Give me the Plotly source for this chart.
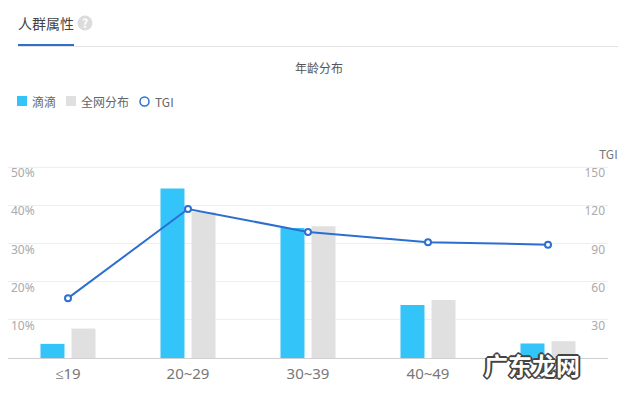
import plotly.graph_objects as go

categories = ["≤19", "20~29", "30~39", "40~49", "≥50"]
didi = [3.7, 44.4, 34.0, 13.9, 3.8]
whole_net = [7.7, 38.2, 34.5, 15.2, 4.4]
tgi = [47, 117, 99, 91, 89]
pct_ticks = [10, 20, 30, 40, 50]
tgi_ticks = [30, 60, 90, 120, 150]

CJK = "Noto Sans CJK SC"
W, H = 618, 394
BLUE = "#2d6fcf"
TOP_PAD = 10 / 191  # headroom above the 50% gridline, so its label stays visible

def px(x): return (x - 8) / 600
def py(y): return (358 - y) / 201

fig = go.Figure()
fig.add_trace(go.Bar(x=categories, y=didi, name="滴滴", marker_color="#33c5f9", marker_line_width=0))
fig.add_trace(go.Bar(x=categories, y=whole_net, name="全网分布", marker_color="#e0e0e0", marker_line_width=0))
fig.add_trace(go.Scatter(x=categories, y=tgi, name="TGI", yaxis="y2", mode="lines+markers",
                         line=dict(color=BLUE, width=2),
                         marker=dict(size=6, color="white", line=dict(color=BLUE, width=2))))

def text(x, y, s, size=12, color="#666", anchor="left", **font):
    fig.add_annotation(xref="paper", yref="paper", x=px(x), y=py(y), text=s, showarrow=False,
                       xanchor=anchor, yanchor="middle", borderpad=0, borderwidth=0,
                       font=dict(family=CJK, size=size, color=color, **font))

def rect(x0, y0, x1, y1, color, kind="rect", line=None, width=0):
    fig.add_shape(type=kind, xref="paper", yref="paper", x0=px(x0), x1=px(x1), y0=py(y0), y1=py(y1),
                  fillcolor=color, line=dict(color=line or color, width=width), layer="above")

# header
text(18, 23, "人群属性", size=14, color="#444")
rect(85 - 7.5, 15.5, 85 + 7.5, 30.5, "#dcdcdc", kind="circle")
text(85, 23, "?", size=12, color="white", anchor="center", weight="bold")
rect(18, 46, 618, 47, "#e2e2e2")
rect(18, 44, 74, 46, "#2f6fc9")
text(318.5, 68, "年龄分布", size=12, color="#555", anchor="center")

# legend
rect(17, 96, 27, 106, "#33c5f9")
text(32, 101.5, "滴滴", color="#666")
rect(66, 96, 76, 106, "#e0e0e0")
text(81, 101.5, "全网分布", color="#666")
rect(140, 97, 149, 106, "white", kind="circle", line=BLUE, width=1.5)
text(155, 101.5, "TGI", color="#666")

text(618, 153, "TGI", size=12, color="#777", anchor="right")

# watermark
outline = ",".join(f"{a}px {b}px 0 #444" for a in (-2, -1, 0, 1, 2) for b in (-2, -1, 0, 1, 2)
                   if abs(a) + abs(b) <= 2)
text(532, 364.5, "广东龙网", size=24, color="white", anchor="center", weight="bold", shadow=outline)

fig.update_layout(
    width=W, height=H, autosize=False,
    margin=dict(l=8, r=10, t=157, b=36),
    paper_bgcolor="white", plot_bgcolor="white",
    barmode="group", bargap=0.483, bargroupgap=0.226,
    showlegend=False,
    font=dict(family=CJK),
    xaxis=dict(type="category", range=[-0.5, 4.5], showgrid=False, ticks="", showline=True,
               linecolor="#cfcfcf", linewidth=1,
               tickfont=dict(family="Noto Sans", size=15, color="#777"), ticklabelstandoff=2, zeroline=False),
    yaxis=dict(range=[0, 50 * (1 + TOP_PAD)], tickvals=pct_ticks, ticktext=[f"{v}%" for v in pct_ticks],
               ticklabelposition="inside", gridcolor="#eeeeee", gridwidth=1, zeroline=False,
               tickfont=dict(family="Noto Sans", size=12, color="#aaaaaa"), ticklabelshift=6),
    yaxis2=dict(range=[0, 150 * (1 + TOP_PAD)], tickvals=tgi_ticks, overlaying="y", side="right",
                ticklabelposition="inside", showgrid=False, zeroline=False,
                tickfont=dict(family="Noto Sans", size=12, color="#aaaaaa"), ticklabelshift=6),
)

fig.write_html("out.html", config={"displayModeBar": False},
               post_script="document.documentElement.style.margin='0';document.body.style.margin='0';")
